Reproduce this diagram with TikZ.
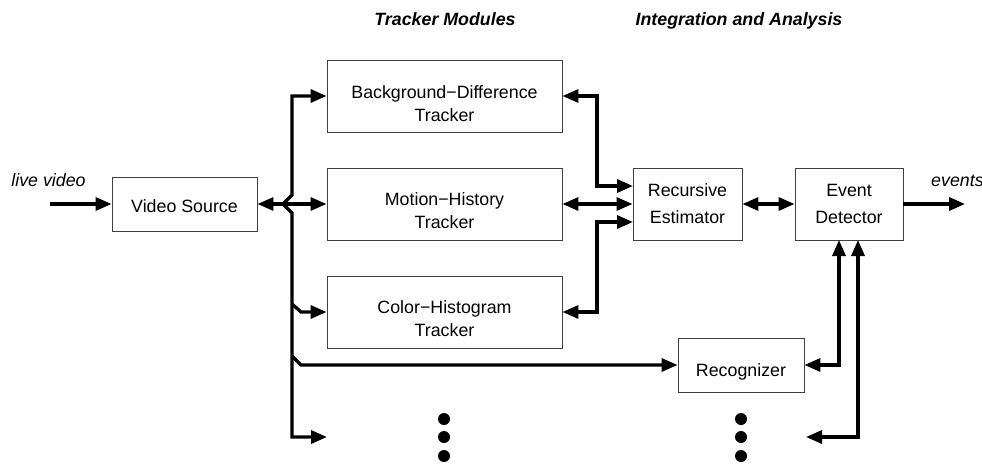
\documentclass[tikz,border=0pt]{standalone}
\usepackage{fontspec}
\setmainfont{Liberation Sans}
\usetikzlibrary{arrows.meta,calc}
\tikzset{
  blk/.style={draw=black!75, line width=0.9pt, inner sep=0pt},
  txt/.style={inner sep=0pt, anchor=base, font=\fontsize{17.8}{24}\selectfont},
  conn/.style={line width=3.3pt, -{Triangle[length=16pt,width=13pt]}},
  bconn/.style={line width=3.3pt, {Triangle[length=16pt,width=13pt]}-{Triangle[length=16pt,width=13pt]}},
  lbl/.style={txt, font=\fontsize{17.8}{24}\selectfont\itshape},
  ttl/.style={txt, font=\fontsize{17.8}{24}\selectfont\bfseries\itshape},
  dotc/.style={fill=black, draw=none}
}
\begin{document}
\begin{tikzpicture}[x=1pt,y=-1pt]
\useasboundingbox (0,0) rectangle (982,463);
% boxes
\node[blk, minimum width=145pt, minimum height=54pt] (vs) at (184.5,204) {};
\node[blk, minimum width=235pt, minimum height=72pt] (bg) at (444.5,96) {};
\node[blk, minimum width=235pt, minimum height=72pt] (mh) at (444.5,204) {};
\node[blk, minimum width=235pt, minimum height=72pt] (ch) at (444.5,312) {};
\node[blk, minimum width=109pt, minimum height=72pt] (re) at (687.5,204) {};
\node[blk, minimum width=108pt, minimum height=72pt] (ed) at (849,204) {};
\node[blk, minimum width=126pt, minimum height=54pt] (rc) at (741,365) {};
% box texts
\node[txt] (vst) at (184.5,212) {Video Source};
\node[txt] (bg1) at (444.5,98) {Background−Difference};
\node[txt] (bg2) at (444.5,121) {Tracker};
\node[txt] (mh1) at (444.5,205) {Motion−History};
\node[txt] (mh2) at (444.5,228) {Tracker};
\node[txt] (ch1) at (444.5,313) {Color−Histogram};
\node[txt] (ch2) at (444.5,336) {Tracker};
\node[txt] (re1) at (687.5,196) {Recursive};
\node[txt] (re2) at (687.5,223) {Estimator};
\node[txt] (ed1) at (849,196) {Event};
\node[txt] (ed2) at (849,223) {Detector};
\node[txt] (rct) at (741,376) {Recognizer};
% labels
\node[ttl] (t1) at (445,25) {Tracker Modules};
\node[ttl] (t2) at (739,25) {Integration and Analysis};
\node[lbl] (lv) at (48.5,186) {live video};
\node[lbl, anchor=base west] (ev) at (931,186) {events};
% coordinates
\coordinate (in) at (50,204);
\coordinate (out) at (965,204);
\coordinate (j) at (283,204);
\coordinate (bot) at (327,437);
\coordinate (r1) at (633,186);
\coordinate (r3) at (633,222);
\coordinate (e1) at (839,240);
\coordinate (e2) at (858,240);
\coordinate (eb) at (806,437);
% connectors
\draw[conn] (in) -- (vs.west);
\draw[bconn] (vs.east) -- (mh.west);
\draw[conn] (j) -- (292,195) |- (bg.west);
\draw[conn] (j) -- (292,213) |- (bot);
\draw[conn] (292,304) -- (301,312) -- (ch.west);
\draw[conn] (292,356) -- (301,365) -- (rc.west);
\draw[bconn] (bg.east) -| (597,186) -- (r1);
\draw[bconn] (mh.east) -- (re.west);
\draw[bconn] (ch.east) -| (597,222) -- (r3);
\draw[bconn] (re.east) -- (ed.west);
\draw[conn] (ed.east) -- (out);
\draw[bconn] (rc.east) -| (e1);
\draw[bconn] (eb) -| (e2);
% dots
\foreach \yy in {419,437,456}{
  \fill[dotc] (444,\yy) circle (6pt);
  \fill[dotc] (741,\yy) circle (6pt);
}
\end{tikzpicture}
\end{document}
